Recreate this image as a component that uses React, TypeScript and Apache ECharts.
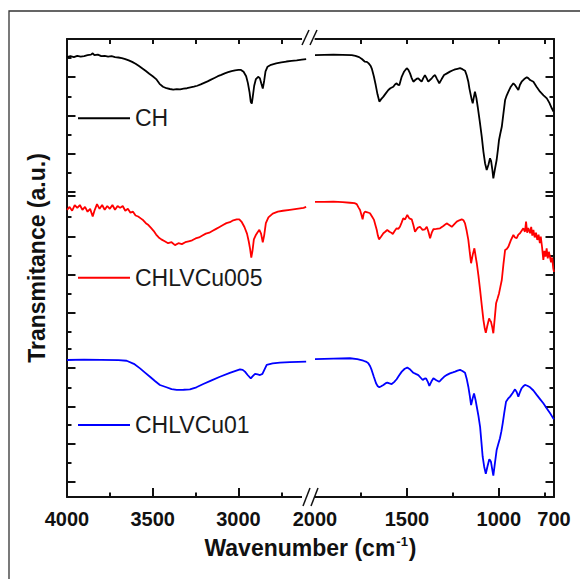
import React, { useEffect, useRef } from "react";
import * as echarts from "echarts";

// ---------- data (wavenumber cm^-1, transmittance offset a.u.) ----------
const chLeft: number[][] = [
  [4000, 23.05], [3980, 23.1], [3960, 23.05], [3940, 23.12], [3920, 23.08], [3900, 23.1], [3880, 23.15],
  [3860, 23.18], [3850, 23.25], [3840, 23.15], [3820, 23.18], [3800, 23.1], [3780, 23.12], [3760, 23.08],
  [3740, 23.1], [3720, 23.05], [3700, 23.03], [3680, 23.0], [3660, 22.95], [3640, 22.88], [3620, 22.8],
  [3600, 22.7], [3580, 22.58], [3560, 22.45], [3540, 22.32], [3520, 22.18], [3500, 22.05], [3480, 21.9],
  [3460, 21.65], [3440, 21.5], [3420, 21.42], [3400, 21.38], [3380, 21.35], [3360, 21.37], [3340, 21.36],
  [3320, 21.4], [3300, 21.42], [3280, 21.46], [3260, 21.5], [3240, 21.55], [3220, 21.62], [3200, 21.7],
  [3180, 21.78], [3160, 21.87], [3140, 21.96], [3120, 22.05], [3100, 22.12], [3080, 22.2], [3060, 22.26],
  [3040, 22.32], [3020, 22.36], [3000, 22.38], [2985, 22.38], [2970, 22.28], [2955, 22.05], [2945, 21.7],
  [2935, 21.2], [2928, 20.7], [2922, 20.62], [2916, 21.0], [2908, 21.55], [2898, 21.9], [2885, 22.02],
  [2875, 21.95], [2866, 21.65], [2858, 21.4], [2850, 21.8], [2842, 22.3], [2830, 22.55], [2810, 22.65],
  [2780, 22.72], [2750, 22.77], [2720, 22.82], [2690, 22.85], [2660, 22.88], [2630, 22.92], [2605, 22.95],
];
const chRight: number[][] = [
  [2000, 23.16], [1950, 23.17], [1900, 23.18], [1850, 23.17], [1800, 23.16], [1780, 23.12], [1760, 23.05],
  [1745, 22.95], [1730, 22.82], [1718, 22.8], [1708, 22.72], [1698, 22.6], [1690, 22.42], [1680, 22.05],
  [1670, 21.6], [1660, 21.1], [1650, 20.72], [1640, 20.85], [1628, 20.98], [1615, 21.15], [1601, 21.33],
  [1590, 21.42], [1574, 21.5], [1565, 21.62], [1556, 21.68], [1548, 21.6], [1541, 21.59], [1535, 21.8],
  [1528, 22.03], [1515, 22.3], [1501, 22.47], [1492, 22.38], [1483, 22.2], [1474, 21.95], [1465, 21.76],
  [1455, 21.85], [1446, 21.92], [1438, 21.94], [1429, 21.85], [1420, 21.76], [1411, 21.95], [1402, 22.11],
  [1393, 21.95], [1384, 21.76], [1375, 21.85], [1365, 21.94], [1356, 22.05], [1347, 22.11], [1336, 21.9],
  [1324, 21.68], [1311, 21.9], [1298, 22.11], [1282, 22.2], [1266, 22.29], [1250, 22.36], [1238, 22.41],
  [1225, 22.44], [1211, 22.47], [1198, 22.42], [1184, 22.34], [1175, 22.1], [1166, 21.76], [1160, 21.4],
  [1153, 21.07], [1147, 20.8], [1142, 20.63], [1136, 20.95], [1130, 21.24], [1122, 20.9], [1115, 20.45],
  [1104, 19.7], [1093, 18.88], [1084, 18.1], [1075, 17.49], [1066, 17.14], [1057, 17.4], [1048, 17.75],
  [1042, 17.6], [1036, 17.2], [1030, 16.7], [1021, 17.2], [1012, 17.66], [1005, 18.2], [999, 18.71],
  [992, 19.05], [984, 19.4], [975, 20.1], [966, 20.8], [957, 21.05], [948, 21.24], [935, 21.5], [921, 21.68],
  [913, 21.6], [906, 21.5], [894, 21.33], [885, 21.6], [876, 21.76], [862, 21.9], [848, 21.99], [840, 21.95],
  [830, 21.85], [812, 21.76], [795, 21.5], [776, 21.24], [757, 21.05], [739, 20.89], [725, 20.65],
  [712, 20.37], [703, 20.2],
];
const cu005Left: number[][] = [
  [4000, 15.05], [3985, 15.2], [3970, 15.0], [3955, 15.3], [3940, 15.15], [3925, 15.3], [3910, 15.05],
  [3895, 15.2], [3880, 14.95], [3865, 15.1], [3850, 14.7], [3840, 15.0], [3825, 15.35], [3810, 15.1],
  [3795, 15.3], [3780, 15.05], [3765, 15.25], [3750, 15.1], [3735, 15.3], [3720, 15.05], [3705, 15.25],
  [3690, 15.15], [3675, 15.25], [3660, 15.0], [3645, 15.1], [3630, 14.9], [3615, 14.95], [3600, 14.75],
  [3585, 14.7], [3570, 14.6], [3555, 14.5], [3540, 14.35], [3525, 14.25], [3510, 14.1], [3495, 13.95],
  [3480, 13.75], [3465, 13.6], [3450, 13.5], [3430, 13.4], [3410, 13.3], [3390, 13.35], [3370, 13.2],
  [3350, 13.3], [3330, 13.25], [3310, 13.35], [3290, 13.4], [3270, 13.45], [3250, 13.55], [3230, 13.6],
  [3210, 13.7], [3190, 13.8], [3170, 13.85], [3150, 13.95], [3130, 14.05], [3110, 14.15], [3090, 14.25],
  [3070, 14.35], [3050, 14.4], [3030, 14.5], [3010, 14.55], [2995, 14.55], [2980, 14.4], [2965, 14.15],
  [2950, 13.8], [2940, 13.4], [2932, 13.0], [2925, 12.55], [2918, 12.9], [2910, 13.5], [2900, 13.7],
  [2890, 13.85], [2878, 14.0], [2868, 13.8], [2858, 13.35], [2850, 13.7], [2840, 14.35], [2825, 14.65],
  [2800, 14.85], [2770, 14.95], [2740, 15.0], [2700, 15.05], [2660, 15.1], [2620, 15.15], [2605, 15.2],
];
const cu005Right: number[][] = [
  [2000, 15.47], [1950, 15.46], [1900, 15.48], [1850, 15.45], [1810, 15.42], [1785, 15.4], [1773, 15.35],
  [1762, 15.15], [1755, 15.04], [1748, 14.8], [1741, 14.55], [1735, 14.85], [1728, 14.95], [1715, 14.92],
  [1701, 14.87], [1690, 14.7], [1679, 14.52], [1670, 14.2], [1664, 13.99], [1658, 13.7], [1652, 13.5],
  [1640, 13.65], [1628, 13.82], [1618, 13.9], [1607, 13.99], [1595, 13.9], [1585, 13.85], [1577, 13.78],
  [1566, 13.95], [1556, 14.08], [1547, 14.05], [1538, 14.16], [1530, 14.35], [1520, 14.6], [1510, 14.55],
  [1498, 14.78], [1487, 14.6], [1474, 14.55], [1465, 14.25], [1456, 13.9], [1442, 14.1], [1429, 14.16],
  [1415, 14.0], [1402, 14.03], [1392, 14.16], [1383, 13.9], [1374, 13.56], [1365, 13.85], [1356, 14.03],
  [1340, 14.05], [1320, 14.08], [1302, 14.2], [1284, 14.34], [1270, 14.25], [1256, 14.16], [1242, 14.3],
  [1229, 14.43], [1215, 14.5], [1202, 14.55], [1192, 14.5], [1184, 14.34], [1175, 13.95], [1166, 13.47],
  [1158, 12.8], [1151, 12.25], [1142, 12.7], [1133, 13.03], [1126, 12.6], [1120, 12.25], [1111, 11.6],
  [1102, 10.85], [1093, 10.05], [1084, 9.28], [1077, 8.85], [1071, 8.61], [1062, 9.0], [1053, 9.36],
  [1048, 9.25], [1043, 9.19], [1036, 8.9], [1030, 8.58], [1022, 9.4], [1015, 10.15], [1007, 10.4],
  [999, 10.67], [992, 11.0], [984, 11.37], [975, 12.2], [966, 12.94], [957, 13.0], [948, 13.12],
  [935, 13.45], [921, 13.73], [912, 13.6], [903, 13.56], [894, 13.75], [885, 13.82], [876, 13.95],
  [867, 14.08], [858, 13.9], [852, 14.43], [846, 13.85], [840, 14.1], [830, 13.82], [824, 14.15],
  [818, 13.7], [812, 13.99], [805, 13.6], [798, 13.85], [791, 13.47], [784, 13.75], [777, 13.3],
  [772, 13.64], [765, 13.1], [758, 12.42], [752, 12.9], [746, 12.6], [740, 13.03], [734, 12.5],
  [728, 12.85], [722, 12.59], [716, 12.3], [710, 12.55], [704, 11.98], [700, 11.8],
];
const cu01Left: number[][] = [
  [4000, 7.18], [3900, 7.2], [3800, 7.19], [3700, 7.17], [3652, 7.14], [3610, 6.98], [3574, 6.74],
  [3545, 6.52], [3516, 6.3], [3487, 6.08], [3458, 5.87], [3420, 5.75], [3390, 5.65], [3360, 5.61],
  [3320, 5.62], [3283, 5.64], [3245, 5.75], [3205, 5.92], [3160, 6.1], [3108, 6.3], [3050, 6.5],
  [2991, 6.69], [2975, 6.66], [2962, 6.57], [2945, 6.38], [2928, 6.22], [2915, 6.35], [2903, 6.45],
  [2888, 6.42], [2874, 6.39], [2860, 6.45], [2851, 6.62], [2835, 6.92], [2800, 7.0], [2758, 7.04],
  [2700, 7.07], [2650, 7.08], [2605, 7.09],
];
const cu01Right: number[][] = [
  [2000, 7.22], [1900, 7.25], [1810, 7.27], [1770, 7.22], [1737, 7.14], [1720, 7.08], [1710, 7.01],
  [1700, 6.85], [1692, 6.66], [1680, 6.3], [1668, 5.96], [1660, 5.82], [1650, 5.75], [1640, 5.8],
  [1628, 5.87], [1617, 5.95], [1607, 5.99], [1595, 5.95], [1583, 5.92], [1570, 6.02], [1556, 6.17],
  [1542, 6.38], [1528, 6.57], [1512, 6.72], [1498, 6.78], [1482, 6.68], [1465, 6.51], [1452, 6.45],
  [1438, 6.39], [1425, 6.25], [1414, 6.13], [1405, 6.2], [1396, 6.22], [1387, 6.05], [1378, 5.82],
  [1367, 6.05], [1356, 6.22], [1340, 6.12], [1324, 6.04], [1311, 6.18], [1298, 6.3], [1282, 6.4],
  [1266, 6.48], [1250, 6.53], [1238, 6.57], [1225, 6.62], [1211, 6.66], [1198, 6.6], [1184, 6.51],
  [1175, 6.2], [1166, 5.78], [1158, 5.3], [1151, 4.82], [1143, 5.15], [1135, 5.43], [1127, 5.1],
  [1120, 4.73], [1111, 4.25], [1102, 3.68], [1095, 2.9], [1088, 2.11], [1080, 1.6], [1071, 1.21],
  [1062, 1.6], [1052, 1.98], [1047, 1.92], [1043, 1.85], [1036, 1.45], [1030, 1.12], [1021, 1.8],
  [1012, 2.46], [1003, 2.78], [994, 3.08], [986, 3.45], [979, 3.86], [970, 4.45], [961, 4.99],
  [950, 5.15], [939, 5.26], [925, 5.45], [912, 5.64], [903, 5.5], [894, 5.26], [885, 5.5], [876, 5.7],
  [867, 5.8], [858, 5.87], [845, 5.83], [830, 5.75], [812, 5.58], [794, 5.35], [776, 5.13], [758, 4.91],
  [740, 4.65], [722, 4.4], [704, 4.12], [700, 4.08],
];

// ---------- ticks ----------
const xLabelsLeft = [4000, 3500, 3000];
const xMajorLeft = [4000, 3500, 3000];
const xMinorLeft = [3750, 3250, 2750];
const xTopLeft = [3750, 3500, 3250, 3000, 2750];
const xLabelsRight = [2000, 1500, 1000, 700];
const xMajorRight = [1500, 1000];
const xMinorRight = [1750, 1250, 750];
const xTopRight = [1750, 1500, 1250, 1000, 750];
const yMajor = [0.8, 2.8, 4.75, 6.75, 9.65, 11.65, 13.65, 15.8, 16, 18, 20, 22];
const yMinor = [1.8, 3.8, 5.75, 7.75, 8.65, 10.65, 12.65, 14.7, 17, 19, 21, 23];

const seriesNames = ["CH", "CHLVCu005", "CHLVCu01"];
const seriesColors = ["#000000", "#ff0000", "#0000ff"];

const FONT = "'Liberation Sans', Arial, sans-serif";
const INK = "#111";

function xAxes(grid: number, min: number, max: number, labels: number[], major: number[], minor: number[], top: number[]) {
  const base = { type: "value", gridIndex: grid, min, max, inverse: true, splitLine: { show: false } };
  return [
    {
      ...base,
      position: "bottom",
      axisLine: { show: true, onZero: false, lineStyle: { color: INK, width: 2 } },
      axisTick: { show: true, inside: true, length: 9, customValues: major, lineStyle: { color: INK, width: 2 } },
      axisLabel: {
        show: true, customValues: labels, margin: 12, fontSize: 20, fontWeight: "bold",
        fontFamily: FONT, color: INK, formatter: (v: number) => String(v),
      },
    },
    {
      ...base,
      position: "bottom",
      axisLine: { show: false, onZero: false },
      axisTick: { show: true, inside: true, length: 4.5, customValues: minor, lineStyle: { color: INK, width: 2 } },
      axisLabel: { show: false },
    },
    {
      ...base,
      position: "top",
      axisLine: { show: true, onZero: false, lineStyle: { color: INK, width: 2 } },
      axisTick: { show: true, inside: true, length: 5, customValues: top, lineStyle: { color: INK, width: 2 } },
      axisLabel: { show: false },
    },
  ];
}

function yAxes(grid: number, position: string) {
  const base = { type: "value", gridIndex: grid, min: 0, max: 24, position, splitLine: { show: false }, axisLabel: { show: false } };
  return [
    {
      ...base,
      axisLine: { show: true, onZero: false, lineStyle: { color: INK, width: 2 } },
      axisTick: { show: true, inside: true, length: 8.5, customValues: yMajor, lineStyle: { color: INK, width: 2 } },
    },
    {
      ...base,
      axisLine: { show: false, onZero: false },
      axisTick: { show: true, inside: true, length: 4.5, customValues: yMinor, lineStyle: { color: INK, width: 2 } },
    },
  ];
}

const leftData = [chLeft, cu005Left, cu01Left];
const rightData = [chRight, cu005Right, cu01Right];
const legendCenters = [118.3, 277.7, 425];

function buildOption() {
  const series: any[] = [];
  seriesNames.forEach((name, i) => {
    const common = {
      type: "line", name, symbol: "none", showSymbol: false, smooth: false,
      lineStyle: { color: seriesColors[i], width: 1.8 }, itemStyle: { color: seriesColors[i] },
    };
    series.push({ ...common, xAxisIndex: 0, yAxisIndex: 0, data: leftData[i] });
    series.push({ ...common, xAxisIndex: 3, yAxisIndex: 2, data: rightData[i] });
  });

  const legends = seriesNames.map((name, i) => ({
    data: [{ name, icon: "rect" }],
    left: 78,
    top: legendCenters[i] - 13,
    padding: 0,
    itemWidth: 52,
    itemHeight: 2,
    selectedMode: false,
    textStyle: { fontSize: 23, lineHeight: 26, fontFamily: FONT, color: "#1a1a1a" },
  }));

  const slash = (x1: number, y1: number, x2: number, y2: number) => ({
    type: "line", shape: { x1, y1, x2, y2 }, style: { stroke: INK, lineWidth: 1.5 }, z: 100,
  });

  return {
    animation: false,
    backgroundColor: "#ffffff",
    grid: [
      { left: 67, top: 39, width: 240, height: 458 },
      { left: 315, top: 39, width: 239, height: 458 },
    ],
    xAxis: [
      ...xAxes(0, 2600, 4000, xLabelsLeft, xMajorLeft, xMinorLeft, xTopLeft),
      ...xAxes(1, 700, 2000, xLabelsRight, xMajorRight, xMinorRight, xTopRight),
    ],
    yAxis: [...yAxes(0, "left"), ...yAxes(1, "right")],
    legend: legends,
    series,
    graphic: [
      { type: "rect", shape: { x: 9, y: 11, width: 600, height: 600 }, style: { fill: "none", stroke: "#333", lineWidth: 1.3 }, z: 100 },
      { type: "rect", shape: { x: 302, y: 35, width: 12.5, height: 8 }, style: { fill: "#ffffff" }, z: 99 },
      { type: "rect", shape: { x: 302, y: 493, width: 12.5, height: 8 }, style: { fill: "#ffffff" }, z: 99 },
      slash(302, 45, 309, 30),
      slash(310, 45, 317, 30),
      slash(303, 506, 310, 488),
      slash(311, 506, 318, 488),
      {
        type: "text", x: 37, y: 258, rotation: Math.PI / 2, z: 100,
        style: {
          text: "Transmitance (a.u.)", fontSize: 23, fontWeight: "bold", fontFamily: FONT, fill: INK,
          align: "center", verticalAlign: "middle", textAlign: "center", textVerticalAlign: "middle",
        },
      },
      {
        type: "text", x: 310.5, y: 548, z: 100,
        style: {
          text: "{b|Wavenumber (cm}{s|-1}{b|)}",
          align: "center", verticalAlign: "middle", textAlign: "center", textVerticalAlign: "middle",
          fill: INK,
          rich: {
            b: { fontSize: 23, fontWeight: "bold", fontFamily: FONT, fill: INK, lineHeight: 26, verticalAlign: "middle" },
            s: { fontSize: 13, fontWeight: "bold", fontFamily: FONT, fill: INK, lineHeight: 26, verticalAlign: "top", padding: [0, 1, 0, 1] },
          },
        },
      },
    ],
  };
}

export default function App() {
  const ref = useRef<HTMLDivElement>(null);
  useEffect(() => {
    if (!ref.current) return;
    const chart = echarts.init(ref.current, null, { renderer: "svg" });
    chart.setOption(buildOption() as any);
    return () => chart.dispose();
  }, []);
  return (
    <div
      ref={ref}
      style={{ position: "fixed", left: 0, top: 0, width: 580, height: 579, background: "#fff" }}
    />
  );
}
